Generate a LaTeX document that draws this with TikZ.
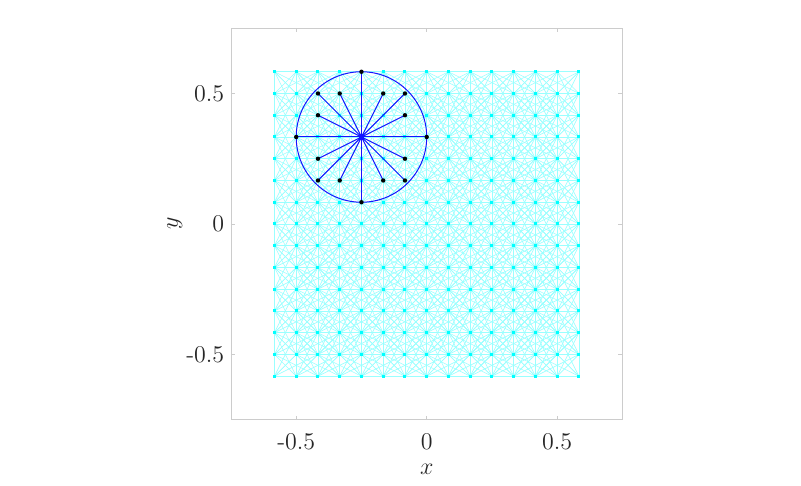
\documentclass[tikz,border=0pt]{standalone}
\begin{document}
\begin{tikzpicture}[x=130.5pt,y=130.5pt,font=\fontsize{12}{14}\selectfont,
  meshline/.style={mcyan!40!white,line width=0.3pt},
  gridpt/.style={fill=mcyan},
  spoke/.style={mblue,line width=0.5pt},
  axisline/.style={black!20,line width=0.45pt},
  ticklab/.style={text=black!85,inner sep=0pt}]
\definecolor{mcyan}{RGB}{0,255,255}
\definecolor{mblue}{RGB}{20,20,255}
\useasboundingbox (-1.6349,-1.0038) rectangle (1.4341,0.8582);
\def\h{0.0833333}
% neighbour mesh
\foreach \a/\b in {1/0,2/0,3/0,0/1,0/2,0/3,1/1,2/2,1/2,2/1,1/-1,2/-2,1/-2,2/-1}{
  \pgfmathtruncatemacro\imax{7-\a}
  \pgfmathtruncatemacro\jmin{\b<0 ? -7-\b : -7}
  \pgfmathtruncatemacro\jmax{\b<0 ? 7 : 7-\b}
  \foreach \i in {-7,...,\imax}{
    \foreach \j in {\jmin,...,\jmax}{
      \draw[meshline] (\i*\h,\j*\h) -- ({(\i+\a)*\h},{(\j+\b)*\h});
    }
  }
}
% grid points
\foreach \i in {-7,...,7}{
  \foreach \j in {-7,...,7}{
    \fill[gridpt] (\i*\h,\j*\h) ++(-0.75pt,-0.75pt) rectangle ++(1.5pt,1.5pt);
  }
}
% horizon circle and spokes
\coordinate (c) at (-3*\h,4*\h);
\draw[spoke] (c) circle[radius=0.25];
\foreach \a/\b in {0/3,0/-3,3/0,-3/0,1/2,1/-2,-1/2,-1/-2,2/1,2/-1,-2/1,-2/-1,2/2,2/-2,-2/2,-2/-2}{
  \coordinate (n\a\b) at ({(-3+\a)*\h},{(4+\b)*\h});
  \draw[spoke] (c) -- (n\a\b);
  \fill[black] (n\a\b) circle[radius=1.1pt];
}
\fill[mblue] (c) ++(-1.3pt,-1.3pt) rectangle ++(2.6pt,2.6pt);
% axes
\draw[axisline] (-0.75,-0.75) rectangle (0.75,0.75);
\foreach \t/\l in {-0.5/-0.5,0/0,0.5/0.5}{
  \draw[axisline] (\t,-0.75) -- ++(0,2pt);
  \draw[axisline] (\t,0.75) -- ++(0,-2pt);
  \draw[axisline] (-0.75,\t) -- ++(2pt,0);
  \draw[axisline] (0.75,\t) -- ++(-2pt,0);
  \node[ticklab,anchor=north] (xt\l) at ([yshift=-6.5pt]\t,-0.75) {\l};
  \node[ticklab,anchor=east] (yt\l) at ([xshift=-3.2pt]-0.75,\t) {\l};
}
\node[ticklab] (xlab) at (0,-0.94) {$x$};
\node[ticklab,rotate=90] (ylab) at (-0.965,0.002) {$y$};
\end{tikzpicture}
\end{document}
